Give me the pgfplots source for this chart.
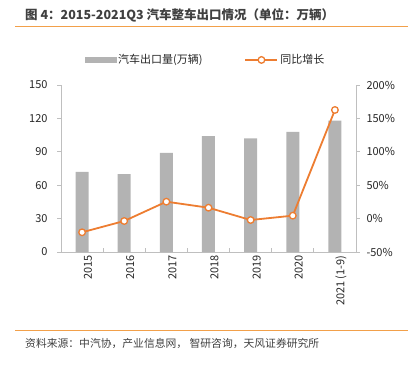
\documentclass[border=0pt]{standalone}
\usepackage{pgfplots}
\pgfplotsset{compat=1.18}
\usepackage{fontspec}
\setmainfont{Noto Sans CJK SC}
\definecolor{barc}{HTML}{B3B3B3}
\definecolor{linec}{HTML}{ED7D31}
\definecolor{rulec}{HTML}{F2A04A}
\definecolor{axc}{HTML}{BFBFBF}
\definecolor{txt}{HTML}{262626}
\definecolor{ttl}{HTML}{404040}
\pgfplotsset{
  myline legend/.style={legend image code/.code={\draw[mark repeat=2,mark phase=2,##1] plot coordinates {(0pt,0pt) (16pt,0pt) (32pt,0pt)};}},
  mybar legend/.style={legend image code/.code={\fill[barc] (0pt,-2.5pt) rectangle (31pt,2.5pt);}},
}
\begin{document}
\begin{tikzpicture}
\path (0pt,0pt) rectangle (415pt,-366pt);
\node[anchor=west, inner sep=0, text=ttl, font=\fontsize{12.5}{14}\selectfont\bfseries] at (25pt,-15pt) {图 4：2015-2021Q3 汽车整车出口情况（单位：万辆）};
\draw[rulec, line width=1pt] (15pt,-27pt) -- (408pt,-27pt);
\draw[rulec, line width=1pt] (15pt,-330pt) -- (408pt,-330pt);
\node[anchor=west, inner sep=0, text=ttl, font=\fontsize{10.8}{13}\selectfont] at (25pt,-343pt) {资料来源：中汽协，产业信息网， 智研咨询，天风证券研究所};

\begin{axis}[
  at={(61pt,-252pt)}, anchor=south west, scale only axis,
  width=295pt, height=167pt,
  xmin=-0.5, xmax=6.5, ymin=0, ymax=150,
  ytick={0,30,60,90,120,150},
  axis y line*=left, axis x line*=bottom,
  axis line style={axc, line width=0.8pt},
  every tick/.style={axc, line width=0.8pt},
  ytick align=outside, major tick length=4pt,
  xtick={-0.5,0.5,1.5,2.5,3.5,4.5,5.5,6.5}, xticklabels={},
  xtick align=inside,
  extra x ticks={0,1,2,3,4,5,6},
  extra x tick labels={2015,2016,2017,2018,2019,2020,2021 (1-9)},
  extra x tick style={major tick length=0pt, tick label style={rotate=90, anchor=east, yshift=-6pt}},
  tick label style={font=\fontsize{11}{13}\selectfont, text=txt},
  yticklabel style={xshift=-6pt},
  /pgf/number format/assume math mode=true,
  clip=false,
]
\addplot[ybar, bar width=13pt, fill=barc, draw=none] coordinates {
  (0,72) (1,70) (2,89) (3,104) (4,102) (5,108) (6,118)
};
\end{axis}

\begin{axis}[
  at={(61pt,-252pt)}, anchor=south west, scale only axis,
  width=295pt, height=167pt,
  xmin=-0.5, xmax=6.5, ymin=-50, ymax=200,
  ytick={-50,0,50,100,150,200},
  yticklabel={\pgfmathprintnumber{\tick}\%},
  axis y line*=right, axis x line=none,
  axis line style={axc, line width=0.8pt},
  every tick/.style={axc, line width=0.8pt},
  ytick align=outside, major tick length=4pt,
  tick label style={font=\fontsize{11}{13}\selectfont, text=txt},
  yticklabel style={xshift=3pt},
  /pgf/number format/assume math mode=true,
  clip=false,
  legend style={at={(0.49,1.15)}, anchor=center, draw=none, fill=none,
    legend columns=2, font=\fontsize{11}{13}\selectfont, text=txt,
    /tikz/every even column/.append style={column sep=40pt}},
]
\addlegendimage{mybar legend}
\addlegendentry{汽车出口量(万辆)}
\addplot[linec, line width=1.8pt, mark=*, mark size=3.3pt,
  mark options={fill=white, draw=linec, line width=1.3pt}, myline legend]
  coordinates {
  (0,-20.5) (1,-3.6) (2,25.3) (3,16.3) (4,-2.1) (5,4.4) (6,162.6)
};
\addlegendentry{同比增长}
\end{axis}
\end{tikzpicture}
\end{document}
